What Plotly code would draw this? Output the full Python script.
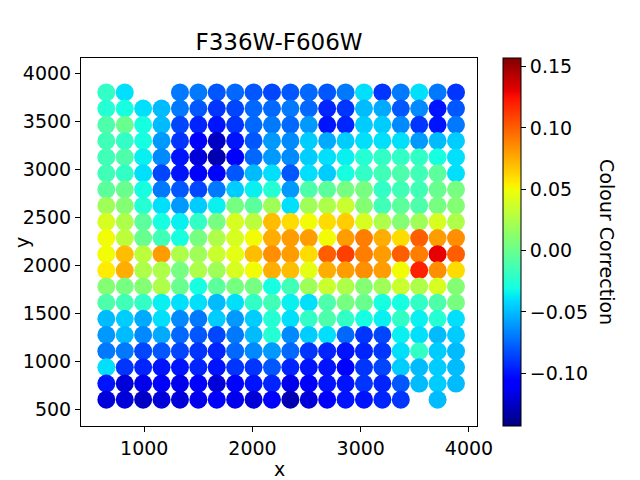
import plotly.graph_objects as go

# grid of sample positions (data units) and colour correction
x_cols = [650, 820, 990, 1160, 1330, 1500, 1670, 1840, 2010, 2180,
          2350, 2520, 2690, 2860, 3030, 3200, 3370, 3540, 3710, 3880]
y_rows = [3800, 3632, 3463, 3295, 3126, 2958, 2789, 2621, 2453, 2284,
          2116, 1947, 1779, 1610, 1442, 1274, 1105, 937, 768, 600]

colour_corr = [
    [-0.02, -0.04, None, None, -0.07, -0.07, -0.08, -0.075, -0.08, -0.085,
     -0.08, -0.075, -0.08, -0.07, -0.04, -0.09, -0.07, -0.04, -0.07, -0.09],
    [-0.025, -0.03, -0.04, -0.05, -0.07, -0.08, -0.09, -0.085, -0.075, -0.075,
     -0.07, -0.075, -0.095, -0.09, -0.05, -0.055, -0.08, -0.065, -0.1, -0.08],
    [-0.01, 0.0, -0.03, -0.05, -0.085, -0.095, -0.1, -0.09, -0.075, -0.07,
     -0.075, -0.06, -0.1, -0.095, -0.045, -0.045, -0.065, -0.09, -0.1, -0.07],
    [-0.015, -0.02, -0.03, -0.06, -0.09, -0.11, -0.125, -0.1, -0.08, -0.06,
     -0.065, -0.045, -0.055, -0.045, -0.04, -0.04, -0.04, -0.06, -0.05, -0.045],
    [-0.015, -0.01, -0.035, -0.065, -0.1, -0.12, -0.13, -0.11, -0.075, -0.06,
     -0.065, -0.045, -0.04, -0.035, -0.025, -0.02, -0.02, -0.02, -0.03, -0.04],
    [-0.015, -0.02, -0.04, -0.085, -0.1, -0.11, -0.105, -0.08, -0.05, -0.04,
     -0.08, -0.04, -0.045, -0.03, -0.02, -0.015, -0.01, -0.015, -0.005, -0.04],
    [-0.005, 0.0, -0.03, -0.07, -0.08, -0.085, -0.07, -0.045, -0.035, -0.025,
     -0.06, -0.01, -0.005, 0.005, 0.005, -0.02, -0.015, -0.015, 0.0, 0.005],
    [0.02, 0.01, -0.025, -0.04, -0.06, -0.045, -0.035, 0.005, -0.005, 0.02,
     -0.04, 0.02, 0.025, 0.035, 0.01, -0.015, -0.005, -0.01, 0.005, 0.01],
    [0.04, 0.025, -0.005, -0.03, -0.035, -0.02, 0.005, 0.04, 0.03, 0.07,
     0.06, 0.05, 0.06, 0.065, 0.04, 0.025, 0.01, 0.02, 0.04, 0.025],
    [0.05, 0.03, 0.0, -0.015, -0.03, 0.005, 0.025, 0.04, 0.05, 0.075,
     0.08, 0.08, 0.05, 0.08, 0.09, 0.075, 0.06, 0.1, 0.08, 0.085],
    [0.05, 0.07, 0.03, 0.08, 0.025, 0.02, 0.035, 0.045, 0.07, 0.085,
     0.08, 0.06, 0.1, 0.11, 0.09, 0.08, 0.1, 0.09, 0.13, 0.1],
    [0.055, 0.075, 0.025, 0.025, 0.005, 0.025, 0.02, 0.04, 0.05, 0.075,
     0.07, 0.045, 0.075, 0.08, 0.085, 0.08, 0.05, 0.12, 0.085, 0.06],
    [0.01, 0.005, 0.01, 0.025, 0.0, -0.03, -0.005, 0.005, 0.005, -0.03,
     -0.015, 0.02, 0.035, 0.025, 0.01, 0.02, 0.035, 0.025, 0.04, 0.01],
    [-0.01, -0.015, -0.02, -0.035, -0.04, -0.04, -0.05, -0.04, -0.02, -0.015,
     -0.035, -0.04, -0.01, 0.005, 0.0, -0.03, -0.03, -0.02, -0.01, 0.005],
    [-0.05, -0.045, -0.055, -0.04, -0.065, -0.07, -0.045, -0.06, -0.045, -0.025,
     -0.04, -0.02, -0.01, -0.02, -0.03, -0.035, -0.02, -0.035, -0.025, -0.04],
    [-0.06, -0.05, -0.065, -0.055, -0.075, -0.08, -0.085, -0.07, -0.05, -0.025,
     -0.065, -0.045, -0.04, -0.075, -0.09, -0.085, -0.035, -0.04, -0.05, -0.045],
    [-0.07, -0.07, -0.085, -0.08, -0.085, -0.09, -0.095, -0.075, -0.065, -0.06,
     -0.075, -0.09, -0.095, -0.1, -0.095, -0.09, -0.04, -0.02, -0.045, -0.05],
    [-0.04, -0.09, -0.095, -0.1, -0.1, -0.095, -0.1, -0.09, -0.09, -0.08,
     -0.095, -0.1, -0.1, -0.105, -0.09, -0.085, -0.045, -0.05, -0.045, -0.05],
    [-0.1, -0.12, -0.115, -0.11, -0.115, -0.11, -0.12, -0.105, -0.1, -0.095,
     -0.115, -0.11, -0.1, -0.1, -0.09, -0.095, -0.08, -0.05, -0.045, -0.05],
    [-0.12, -0.12, -0.125, -0.12, -0.12, -0.115, -0.11, -0.115, -0.12, -0.11,
     -0.13, -0.12, -0.11, -0.1, -0.1, -0.095, -0.09, None, -0.05, None],
]

cbar_ticks = [0.15, 0.10, 0.05, 0.00, -0.05, -0.10]
cbar_labels = ["0.15", "0.10", "0.05", "0.00", "\u22120.05", "\u22120.10"]
x_ticks = [1000, 2000, 3000, 4000]
y_ticks = [500, 1000, 1500, 2000, 2500, 3000, 3500, 4000]

# matplotlib-style jet
jet = [
    [0.0, "rgb(0,0,128)"], [0.11, "rgb(0,0,255)"], [0.125, "rgb(0,0,255)"],
    [0.34, "rgb(0,219,255)"], [0.35, "rgb(0,230,247)"], [0.375, "rgb(21,255,226)"],
    [0.64, "rgb(239,255,8)"], [0.65, "rgb(247,245,0)"], [0.66, "rgb(255,236,0)"],
    [0.89, "rgb(255,19,0)"], [0.91, "rgb(232,0,0)"], [1.0, "rgb(128,0,0)"],
]

px_x, px_y, px_c = [], [], []
for j, yv in enumerate(y_rows):
    for i, xv in enumerate(x_cols):
        c = colour_corr[j][i]
        if c is None:
            continue
        px_x.append(xv)
        px_y.append(yv)
        px_c.append(c)

FONT = "DejaVu Sans"

fig = go.Figure(go.Scatter(
    x=px_x, y=px_y, mode="markers",
    marker=dict(
        size=18, color=px_c, colorscale=jet, cmin=-0.143, cmax=0.157,
        line=dict(width=0),
        colorbar=dict(
            x=1.066, xanchor="left", y=0.5, yanchor="middle",
            len=1, lenmode="fraction", thickness=18, xpad=0, ypad=0,
            outlinecolor="black", outlinewidth=1,
            tickvals=cbar_ticks, ticktext=cbar_labels,
            ticks="outside", ticklen=5, tickcolor="black",
            tickfont=dict(family=FONT, size=19, color="black"),
        ),
    ),
    showlegend=False,
))

axis_style = dict(
    showline=True, linecolor="black", linewidth=1, mirror=True,
    ticks="outside", ticklen=5, tickcolor="black", showgrid=False,
    zeroline=False, tickfont=dict(family=FONT, size=19, color="black"),
)

fig.update_xaxes(range=[416, 4074], tickvals=x_ticks, **axis_style)
fig.update_yaxes(range=[326, 4159], tickvals=y_ticks, **axis_style)

# page body adds an 8px offset, so margins are trimmed on the left/top
fig.update_layout(
    width=640, height=480,
    margin=dict(l=73, r=171, t=50, b=62),
    paper_bgcolor="white", plot_bgcolor="white",
    title=dict(text="F336W-F606W", xref="paper", x=0.5, xanchor="center",
               y=1 - 34 / 480, yanchor="middle",
               font=dict(family=FONT, size=23, color="black")),
    annotations=[
        dict(text="x", xref="paper", yref="paper", x=0.5, y=-0.117,
             showarrow=False, xanchor="center", yanchor="middle",
             font=dict(family=FONT, size=19, color="black")),
        dict(text="y", xref="paper", yref="paper", x=-0.182, y=0.5,
             showarrow=False, textangle=-90, xanchor="left", yanchor="middle",
             font=dict(family=FONT, size=19, color="black")),
        dict(text="Colour Correction", xref="paper", yref="paper",
             x=1.328, y=0.5, showarrow=False, textangle=90,
             xanchor="center", yanchor="middle",
             font=dict(family=FONT, size=19, color="black")),
    ],
)

fig.write_html("out.html")
